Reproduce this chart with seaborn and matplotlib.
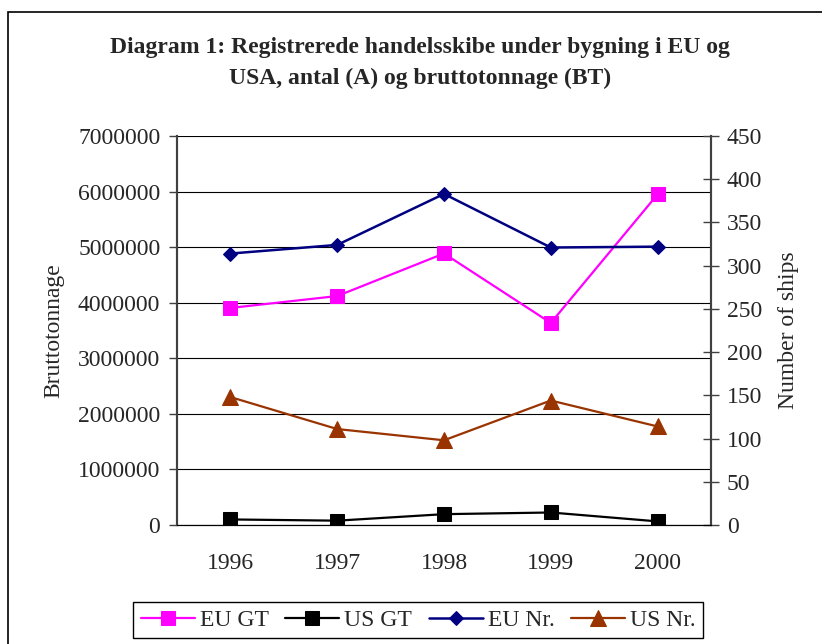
import numpy as np
import pandas as pd
import seaborn as sns
from matplotlib import pyplot as plt
from matplotlib.patches import Rectangle

sns.set_style("white")
plt.rcParams.update({
    "font.family": ["Liberation Serif", "DejaVu Serif"],
    "font.size": 17,
})

years = ["1996", "1997", "1998", "1999", "2000"]
eu_gt = [3906000, 4120000, 4886000, 3636000, 5950000]
us_gt = [100000, 78000, 195000, 225000, 65000]
eu_nr = [314, 324, 383, 321, 322]
us_nr = [148, 111, 98, 144, 114]

left_ticks = [0, 1000000, 2000000, 3000000, 4000000, 5000000, 6000000, 7000000]
right_ticks = [0, 50, 100, 150, 200, 250, 300, 350, 400, 450]

df = pd.DataFrame({"pos": np.arange(len(years)), "year": years,
                   "EU GT": eu_gt, "US GT": us_gt,
                   "EU Nr.": eu_nr, "US Nr.": us_nr})

W, H = 822, 644
fig = plt.figure(figsize=(W / 100, H / 100), dpi=100)
ax = fig.add_axes([177 / W, (H - 525) / H, (711 - 177) / W, (525 - 136) / H])
ax2 = ax.twinx()

# draw the gridlines under the lines
ax.set_axisbelow(True)
ax.yaxis.grid(True, color="black", linewidth=0.8)
ax2.set_zorder(ax.get_zorder() + 1)
ax2.patch.set_visible(False)

sns.lineplot(data=df, x="pos", y="EU GT", ax=ax, color="#FF00FF", marker="s",
             markersize=10, markeredgecolor="#FF00FF", linewidth=1.6, label="EU GT")
sns.lineplot(data=df, x="pos", y="US GT", ax=ax, color="black", marker="s",
             markersize=10, markeredgecolor="black", linewidth=1.6, label="US GT")
sns.lineplot(data=df, x="pos", y="EU Nr.", ax=ax2, color="#000080", marker="D",
             markersize=7.5, markeredgecolor="#000080", linewidth=1.8, label="EU Nr.")
sns.lineplot(data=df, x="pos", y="US Nr.", ax=ax2, color="#993300", marker="^",
             markersize=12, markeredgecolor="#993300", linewidth=1.6, label="US Nr.")

ax.set_xlim(-0.5, len(years) - 0.5)
ax.set_ylim(0, 7000000)
ax2.set_ylim(0, 450)
ax.set_yticks(left_ticks)
ax.set_yticklabels([str(t) for t in left_ticks])
ax2.set_yticks(right_ticks)
ax.set_xticks(df["pos"])
ax.set_xticklabels(years)
ax.set_xticks(np.arange(len(years) + 1) - 0.5, minor=True)

ax.tick_params(axis="x", which="major", length=0, pad=20, labelsize=17)
ax.tick_params(axis="x", which="minor", length=6, width=1, direction="out", color="black")
ax.tick_params(axis="y", length=6, width=1, direction="out", pad=6, labelsize=17, color="#404040")
ax2.tick_params(axis="y", length=11, width=1, direction="inout", pad=6, labelsize=17, color="#404040")

ax.set_xlabel("")
ax.set_ylabel("Bruttotonnage", fontsize=17)
ax2.set_ylabel("Number of ships", fontsize=17)
ax.yaxis.set_label_coords((64 - 177) / (711 - 177), 0.5)
ax2.yaxis.set_label_coords((778 - 177) / (711 - 177), 0.5)

for a in (ax, ax2):
    a.spines["top"].set_visible(False)
    a.spines["left"].set_color("#404040")
    a.spines["right"].set_color("#404040")
    a.spines["left"].set_linewidth(1.5)
    a.spines["right"].set_linewidth(1.5)
    a.spines["bottom"].set_color("black")

h1, l1 = ax.get_legend_handles_labels()
h2, l2 = ax2.get_legend_handles_labels()
ax.get_legend().remove()
ax2.get_legend().remove()
fig.legend(h1 + h2, l1 + l2, ncol=4, loc="center",
           bbox_to_anchor=(418 / W, 1 - 620 / H), frameon=True, fancybox=False,
           edgecolor="black", framealpha=1, fontsize=17, handlelength=2.3,
           handletextpad=0.2, columnspacing=0.7, borderpad=0.3, borderaxespad=0)

fig.text(420 / W, 1 - 47 / H, "Diagram 1: Registrerede handelsskibe under bygning i EU og",
         ha="center", va="center", fontsize=17, fontweight="bold")
fig.text(420 / W, 1 - 78 / H, "USA, antal (A) og bruttotonnage (BT)",
         ha="center", va="center", fontsize=17, fontweight="bold")

# outer chart frame
fig.patches.append(Rectangle((8 / W, -0.1), 1.2, (H - 12) / H + 0.1,
                             transform=fig.transFigure, fill=False,
                             edgecolor="black", linewidth=1.2))

plt.savefig("out.png", dpi=100)
plt.close()
